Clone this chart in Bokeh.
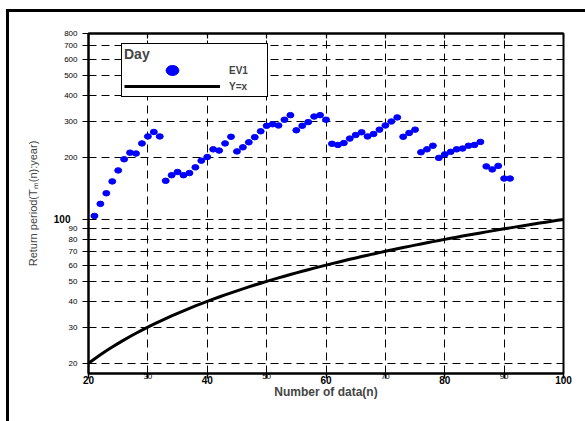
from bokeh.plotting import figure
from bokeh.layouts import column, row
from bokeh.models import Range1d, FixedTicker, LinearAxis, Legend, LegendItem, ColumnDataSource, Div
from bokeh.embed import file_html
from bokeh.resources import INLINE

# ---- data ----
n_data = [21, 22, 23, 24, 25, 26, 27, 28, 29, 30, 31, 32, 33, 34, 35, 36, 37, 38, 39, 40,
          41, 42, 43, 44, 45, 46, 47, 48, 49, 50, 51, 52, 53, 54, 55, 56, 57, 58, 59, 60,
          61, 62, 63, 64, 65, 66, 67, 68, 69, 70, 71, 72, 73, 74, 75, 76, 77, 78, 79, 80,
          81, 82, 83, 84, 85, 86, 87, 88, 89, 90, 91]
ev1_period = [104, 119, 134, 153, 173, 196, 211, 209, 234, 253, 266, 253, 154, 164, 170, 164, 168, 179, 193, 201,
              219, 216, 234, 252, 214, 224, 237, 251, 268, 285, 290, 286, 305, 321, 271, 285, 297, 316, 321, 305,
              233, 230, 235, 247, 257, 265, 253, 260, 273, 286, 299, 313, 252, 263, 273, 212, 219, 228, 199, 207,
              213, 219, 221, 228, 230, 238, 181, 175, 182, 158, 158]
# identity reference line Y = x
line_n = list(range(20, 101))
line_y = list(line_n)

x_ticks = [20, 30, 40, 50, 60, 70, 80, 90, 100]
x_bold_labels = [20, 40, 60, 80, 100]
x_small_labels = [30, 50, 70, 90]
y_ticks = [20, 30, 40, 50, 60, 70, 80, 90, 100, 200, 300, 400, 500, 600, 700, 800]
y_bold_labels = [100]

FONT = "Liberation Sans"

p = figure(width=576, height=409, y_axis_type="log",
           x_range=Range1d(20, 100), y_range=Range1d(17.85, 800),
           output_backend="svg", toolbar_location=None,
           min_border_left=79, min_border_right=22, min_border_top=21, min_border_bottom=48,
           background_fill_color="white", border_fill_color="white", margin=0)

p.outline_line_color = "black"
p.outline_line_width = 2
p.outline_line_alpha = 1

# grids
p.xgrid.ticker = FixedTicker(ticks=x_ticks[1:-1])
p.ygrid.ticker = FixedTicker(ticks=y_ticks)
for g in (p.xgrid, p.ygrid):
    g.grid_line_color = "black"
    g.grid_line_dash = "8 5"
    g.grid_line_width = 1
    g.grid_line_alpha = 1

# inner x axis: all ticks, small labels
xa = p.xaxis[0]
xa.ticker = FixedTicker(ticks=x_ticks, minor_ticks=[])
xa.major_label_overrides = {float(v): "" for v in x_bold_labels}
xa.major_label_text_font = FONT
xa.major_label_text_font_size = "8px"
xa.major_label_text_color = "black"
xa.major_label_standoff = -5
xa.major_tick_out = 5
xa.major_tick_in = 0
xa.major_tick_line_width = 1.5
xa.major_tick_line_color = "black"
xa.minor_tick_line_color = None
xa.axis_line_width = 2
xa.axis_line_color = "black"

# outer x axis: bold labels + title
xb = LinearAxis(ticker=FixedTicker(ticks=x_bold_labels, minor_ticks=[]),
                axis_line_color=None, major_tick_line_color=None, minor_tick_line_color=None,
                major_tick_out=0, major_tick_in=0, major_label_standoff=-6,
                major_label_text_font=FONT, major_label_text_font_style="bold",
                major_label_text_font_size="10px", major_label_text_color="black",
                axis_label="Number of data(n)", axis_label_text_font=FONT,
                axis_label_text_font_style="bold", axis_label_text_font_size="12px",
                axis_label_standoff=-2)
p.add_layout(xb, "below")

# inner y axis: all ticks, small labels
ya = p.yaxis[0]
ya.ticker = FixedTicker(ticks=y_ticks, minor_ticks=[])
ya.major_label_overrides = {float(v): "" for v in y_bold_labels}
ya.major_label_text_font = FONT
ya.major_label_text_font_size = "8px"
ya.major_label_text_color = "black"
ya.major_label_standoff = 5
ya.major_tick_out = 6
ya.major_tick_in = 0
ya.major_tick_line_width = 1.2
ya.major_tick_line_color = "black"
ya.minor_tick_line_color = None
ya.axis_line_width = 2
ya.axis_line_color = "black"

# outer y axis: bold label + title
yb = LinearAxis(ticker=FixedTicker(ticks=y_bold_labels, minor_ticks=[]),
                axis_line_color=None, major_tick_line_color=None, minor_tick_line_color=None,
                major_tick_out=0, major_tick_in=0, major_label_standoff=-9,
                major_label_text_font=FONT, major_label_text_font_style="bold",
                major_label_text_font_size="10px", major_label_text_color="black",
                axis_label="Return period(T\u2098(n):year)", axis_label_text_font=FONT,
                axis_label_text_font_style="normal", axis_label_text_font_size="11px",
                axis_label_standoff=12)
p.add_layout(yb, "left")

# top axis with inward ticks only
top = LinearAxis(ticker=FixedTicker(ticks=x_ticks, minor_ticks=[]),
                 major_label_overrides={float(v): "" for v in x_ticks},
                 major_tick_in=5, major_tick_out=0,
                 major_tick_line_width=1.2, minor_tick_line_color=None,
                 axis_line_width=2, major_label_standoff=0)
p.add_layout(top, "above")

# data
src = ColumnDataSource(dict(n=n_data, rp=ev1_period))
dots = p.ellipse(x="n", y="rp", width=7, height=5.5, width_units="screen", height_units="screen",
                 fill_color="#0000FF", line_color="#0000FF", source=src)
line = p.line(line_n, line_y, line_color="black", line_width=3)

legend = Legend(items=[LegendItem(label="EV1", renderers=[dots]),
                       LegendItem(label="Y=x", renderers=[line])],
                title="Day", location=(33, 276),
                glyph_width=96, glyph_height=16, label_height=14, label_width=36,
                spacing=0, label_standoff=9, padding=2, margin=0,
                title_standoff=0,
                label_text_font=FONT, label_text_font_style="bold", label_text_font_size="10px",
                title_text_font=FONT, title_text_font_style="bold", title_text_font_size="14px",
                border_line_color="black", border_line_width=1.5, border_line_alpha=1,
                background_fill_color="white", background_fill_alpha=1)
p.add_layout(legend)

# thick frame lines of the picture (top and left edges)
top_bar = Div(text="", width=579, height=3, margin=0, styles={"background-color": "black"})
left_bar = Div(text="", width=3, height=409, margin=0, styles={"background-color": "black"})
layout = column(top_bar, row(left_bar, p, margin=0, spacing=0), margin=(9, 0, 0, 6), spacing=0)

open("out.html", "w").write(file_html(layout, INLINE))
